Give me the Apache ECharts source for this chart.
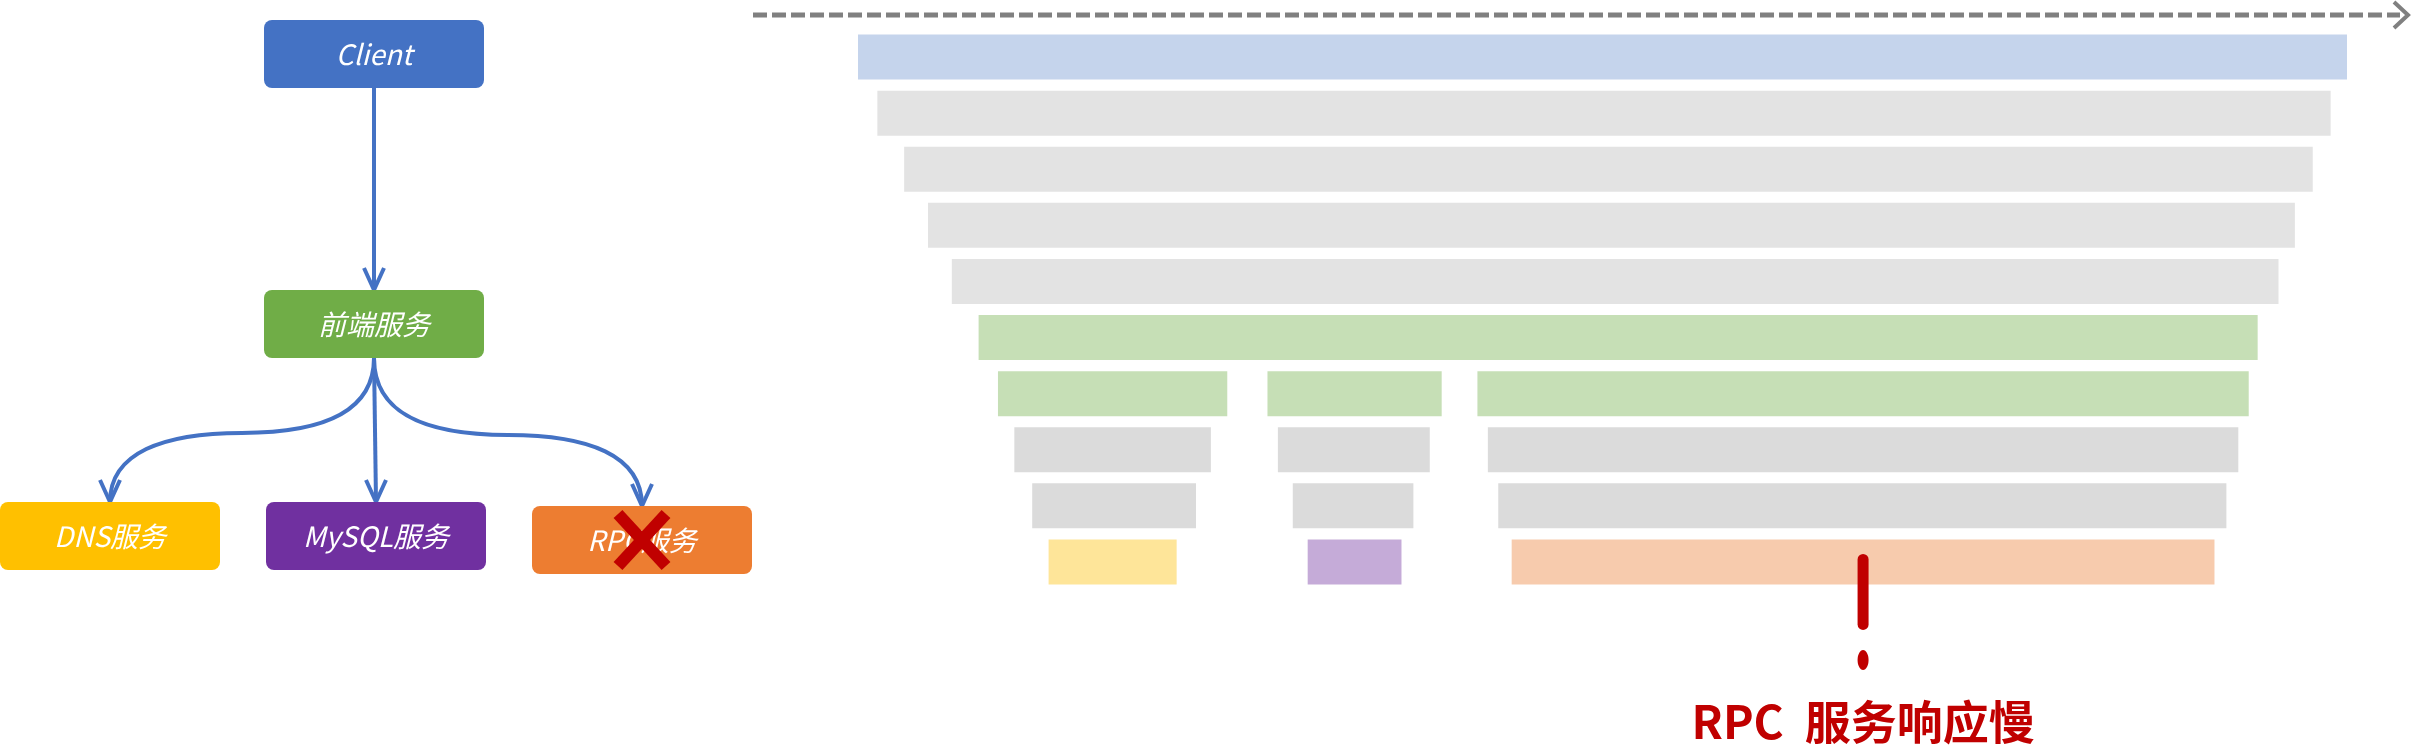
<!DOCTYPE html>
<html><head><meta charset="utf-8">
<script src="https://cdn.jsdelivr.net/npm/echarts@6/dist/echarts.min.js"></script>
<style>html,body{margin:0;padding:0;background:#fff}#c{width:2414px;height:756px}</style>
</head><body><div id="c"></div>
<script>
// ---- trace waterfall data (x in % of total request time) ----
var rows = ['Client','L1','L2','L3','L4','前端服务','前端子调用','中间层','下层调用','叶子服务'];
var spanRow   = [0,1,2,3,4,5, 6,6,6, 7,7,7, 8,8,8, 9,9,9];
var spanStart = [0,1.3,3.1,4.7,6.3,8.1, 9.4,27.5,41.6, 10.5,28.2,42.3, 11.7,29.2,43.0, 12.8,30.2,43.9];
var spanEnd   = [100,98.9,97.7,96.5,95.4,94.0, 24.8,39.2,93.4, 23.7,38.4,92.7, 22.7,37.3,91.9, 21.4,36.5,91.1];
var spanKind  = ['client','gray','gray','gray','gray','front', 'front','front','front', 'mid','mid','mid', 'mid','mid','mid', 'dns','mysql','rpc'];
var alertValue = [67.5, 9];
var alertText = 'RPC  服务响应慢';
// ---- service call diagram ----
var nodeNames = ['Client','前端服务','DNS服务','MySQL服务','RPC服务'];
var nodeX = [374,374,110,376,642];
var nodeY = [54,324,536,536,540];
var nodeColor = ['#4472c4','#70ad47','#ffc000','#7030a0','#ed7d31'];
var edgeFrom = [0,1,1,1];
var edgeTo   = [1,2,3,4];
var failedNode = 4;

var kindColor = {client:'#c5d4ec',gray:'#e3e3e3',front:'#c6dfb6',mid:'#dbdbdb',dns:'#fee599',mysql:'#c5abd8',rpc:'#f7cbad'};
var chart = echarts.init(document.getElementById('c'));
var spans = spanRow.map(function(r,i){return [spanStart[i],spanEnd[i],r,spanKind[i]];});

chart.setOption({
  animation:false,
  grid:[
    {left:858,right:67,top:29,height:561},
    {left:0,top:0,width:752,height:756}
  ],
  xAxis:[
    {type:'value',gridIndex:0,min:0,max:100,show:false},
    {type:'value',gridIndex:1,min:0,max:752,show:false}
  ],
  yAxis:[
    {type:'category',gridIndex:0,data:rows,inverse:true,show:false},
    {type:'value',gridIndex:1,min:0,max:756,inverse:true,show:false}
  ],
  graphic:[
    {type:'line',shape:{x1:753,y1:15,x2:2400,y2:15},style:{stroke:'#808080',lineWidth:5,lineDash:[14,5]}},
    {type:'polyline',shape:{points:[[2394,2],[2408,15],[2394,28]]},style:{stroke:'#808080',lineWidth:4,fill:null}}
  ],
  series:[
    {type:'custom',xAxisIndex:0,yAxisIndex:0,data:spans,
     renderItem:function(p,api){
       var s=api.coord([api.value(0),api.value(2)]), e=api.coord([api.value(1),api.value(2)]);
       return {type:'rect',shape:{x:s[0],y:s[1]-22.5,width:e[0]-s[0],height:45},
               style:{fill:kindColor[spans[p.dataIndex][3]]}};
     }},
    {type:'custom',xAxisIndex:0,yAxisIndex:0,data:[alertValue],z:5,
     renderItem:function(p,api){
       var c=api.coord([api.value(0),api.value(1)]);
       return {type:'group',children:[
         {type:'rect',shape:{x:c[0]-5.5,y:c[1]-8,width:11,height:76,r:5.5},style:{fill:'#c00000'}},
         {type:'ellipse',shape:{cx:c[0],cy:c[1]+98,rx:5.5,ry:10},style:{fill:'#c00000'}},
         {type:'text',x:c[0],y:c[1]+160,style:{text:alertText,fill:'#c00000',font:'bold 46px "Noto Sans CJK SC"',align:'center',verticalAlign:'middle'}}
       ]};
     }},
    {type:'custom',xAxisIndex:1,yAxisIndex:1,data:edgeFrom.map(function(f,i){return [nodeX[f],nodeY[f]+34,nodeX[edgeTo[i]],nodeY[edgeTo[i]]-34];}),
     renderItem:function(p,api){
       var a=api.coord([api.value(0),api.value(1)]), b=api.coord([api.value(2),api.value(3)]);
       var ls={stroke:'#4472c4',lineWidth:4,fill:null};
       var ch=[];
       if(Math.abs(a[0]-b[0])<5){
         ch.push({type:'line',shape:{x1:a[0],y1:a[1],x2:b[0],y2:b[1]},style:ls});
       } else {
         var my=a[1]+(b[1]-a[1])*0.52, mx=(a[0]+b[0])/2;
         ch.push({type:'bezierCurve',shape:{x1:a[0],y1:a[1],cpx1:a[0],cpy1:my-20,cpx2:a[0]+(mx-a[0])*0.4,cpy2:my,x2:mx,y2:my},style:ls});
         ch.push({type:'bezierCurve',shape:{x1:mx,y1:my,cpx1:mx+(b[0]-mx)*0.6,cpy1:my,cpx2:b[0],cpy2:my+20,x2:b[0],y2:b[1]},style:ls});
       }
       ch.push({type:'polyline',shape:{points:[[b[0]-10,b[1]-22],[b[0],b[1]],[b[0]+10,b[1]-22]]},style:{stroke:'#4472c4',lineWidth:4,fill:null}});
       return {type:'group',children:ch};
     }},
    {type:'custom',xAxisIndex:1,yAxisIndex:1,z:3,data:nodeNames.map(function(n,i){return [nodeX[i],nodeY[i],i];}),
     renderItem:function(p,api){
       var i=p.dataIndex, c=api.coord([api.value(0),api.value(1)]);
       var ch=[{type:'rect',shape:{x:c[0]-110,y:c[1]-34,width:220,height:68,r:8},style:{fill:nodeColor[i]}},
         {type:'text',x:c[0],y:c[1],style:{text:nodeNames[i],fill:'#fff',font:'italic 28px "Noto Sans CJK SC"',align:'center',verticalAlign:'middle'}}];
       if(i===failedNode){
         ch.push({type:'line',shape:{x1:c[0]-24,y1:c[1]-26,x2:c[0]+24,y2:c[1]+26},style:{stroke:'#c00000',lineWidth:12}});
         ch.push({type:'line',shape:{x1:c[0]+24,y1:c[1]-26,x2:c[0]-24,y2:c[1]+26},style:{stroke:'#c00000',lineWidth:12}});
       }
       return {type:'group',children:ch};
     }}
  ]
});
</script></body></html>
